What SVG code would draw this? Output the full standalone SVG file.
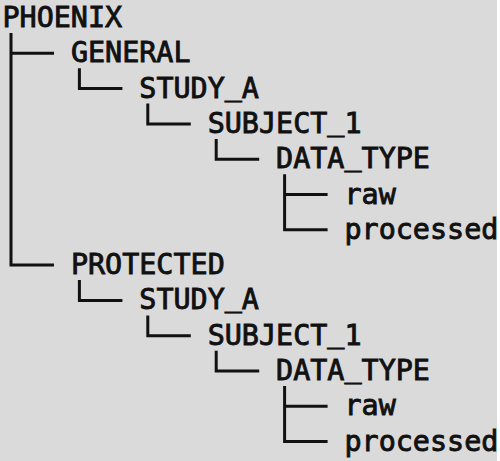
<svg xmlns="http://www.w3.org/2000/svg" width="500" height="461" viewBox="0 0 500 461">
<style>
.t{font-family:"DejaVu Sans Mono","Liberation Mono",monospace;font-size:28.4px;fill:#111;stroke:#111;stroke-width:0.9px}
.c{fill:none;stroke:#111;stroke-width:3;stroke-linejoin:miter;stroke-linecap:butt}
</style>
<rect x="0" y="0" width="500" height="461" fill="#ffffff"/>
<rect x="0" y="0" width="497" height="461" fill="#dadada"/>
<g id="connectors">
<path class="c" d="M11 33 V265.1 H54"/>
<path class="c" d="M11 53.3 H54"/>
<path class="c" d="M79.4 68.3 V88.6 H122.4"/>
<path class="c" d="M147.8 103.6 V123.9 H190.8"/>
<path class="c" d="M216.2 138.9 V159.2 H259.2"/>
<path class="c" d="M284.6 174.2 V229.8 H327.6"/>
<path class="c" d="M284.6 194.5 H327.6"/>
<path class="c" d="M79.4 280.1 V300.4 H122.4"/>
<path class="c" d="M147.8 315.4 V335.7 H190.8"/>
<path class="c" d="M216.2 350.7 V371 H259.2"/>
<path class="c" d="M284.6 386 V441.6 H327.6"/>
<path class="c" d="M284.6 406.3 H327.6"/>
</g>
<g id="phoenix"><text class="t" x="2.5" y="27">PHOENIX</text></g>
<g id="general"><text class="t" x="70.9" y="62.3">GENERAL</text></g>
<g id="general_study_a"><text class="t" x="139.3" y="97.6">STUDY<tspan dy="-3">_</tspan><tspan dy="3">A</tspan></text></g>
<g id="general_subject_1"><text class="t" x="207.7" y="132.9">SUBJECT<tspan dy="-3">_</tspan><tspan dy="3">1</tspan></text></g>
<g id="general_data_type"><text class="t" x="276.1" y="168.2">DATA<tspan dy="-3">_</tspan><tspan dy="3">TYPE</tspan></text></g>
<g id="general_raw"><text class="t" x="344.5" y="203.5">raw</text></g>
<g id="general_processed"><text class="t" x="344.5" y="238.8">processed</text></g>
<g id="protected"><text class="t" x="70.9" y="274.1">PROTECTED</text></g>
<g id="protected_study_a"><text class="t" x="139.3" y="309.4">STUDY<tspan dy="-3">_</tspan><tspan dy="3">A</tspan></text></g>
<g id="protected_subject_1"><text class="t" x="207.7" y="344.7">SUBJECT<tspan dy="-3">_</tspan><tspan dy="3">1</tspan></text></g>
<g id="protected_data_type"><text class="t" x="276.1" y="380">DATA<tspan dy="-3">_</tspan><tspan dy="3">TYPE</tspan></text></g>
<g id="protected_raw"><text class="t" x="344.5" y="415.3">raw</text></g>
<g id="protected_processed"><text class="t" x="344.5" y="450.6">processed</text></g>
</svg>
